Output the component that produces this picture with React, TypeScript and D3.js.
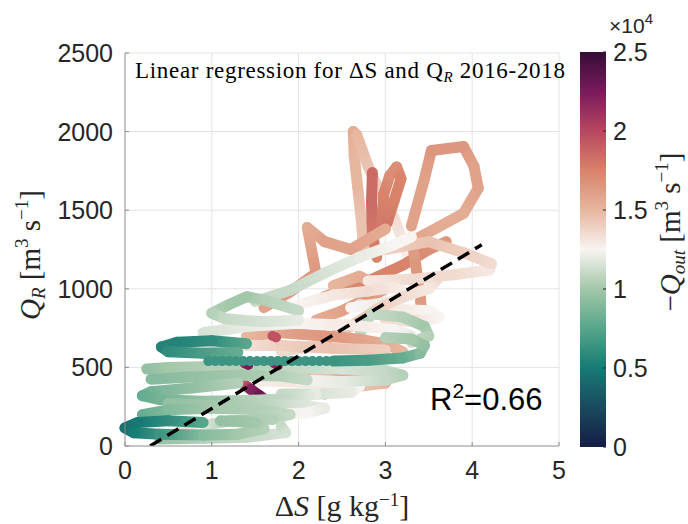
import React from 'react';
import * as d3 from 'd3';

type Pt = [number, number, number]; // [ΔS g/kg, Q_R m3/s, -Q_out m3/s]

// ---- trajectories (upper salmon ones first, lower green ones last)
const tallLoop: Pt[] = [[2.75, 1250, 14500], [2.72, 1450, 14500], [2.68, 1650, 15000], [2.64, 1850, 15000], [2.63, 2000, 15500], [2.67, 1980, 15000], [2.8, 1780, 14500], [2.95, 1600, 14000], [3.1, 1450, 13500], [3.2, 1300, 13000], [3.3, 1150, 12500]];
const topRightLoop: Pt[] = [[3.3, 1400, 16000], [3.45, 1700, 16000], [3.53, 1880, 16500], [3.9, 1905, 16500], [4.02, 1780, 16000], [4.07, 1640, 16000], [3.9, 1480, 15500], [3.6, 1390, 15500], [3.3, 1300, 16000]];
const redHook: Pt[] = [[2.95, 1380, 18000], [2.98, 1600, 17500], [3.05, 1720, 17000], [3.13, 1775, 17000], [3.18, 1700, 17500], [3.1, 1560, 17500], [3.02, 1420, 18000]];
const redStreak: Pt[] = [[2.85, 1740, 18500], [2.84, 1550, 18500], [2.85, 1350, 18000], [2.9, 1200, 17500]];
const salmonRise: Pt[] = [[1.6, 880, 16000], [1.9, 980, 16500], [2.2, 1100, 16500], [2.1, 1390, 15500], [2.3, 1300, 16000], [2.6, 1250, 16000], [3.0, 1380, 15500]];
const redBand: Pt[] = [[2.3, 950, 17000], [2.8, 1050, 17500], [3.2, 1150, 17500], [3.5, 1250, 17000], [3.7, 1300, 16500]];
const salmonDrop: Pt[] = [[3.3, 1330, 16000], [3.35, 1150, 16500], [3.4, 950, 16500], [3.42, 850, 16000], [3.3, 800, 15500]];
const salmonKnot: Pt[] = [[2.2, 800, 15500], [2.5, 860, 16000], [2.8, 940, 16500], [3.0, 1000, 16000], [2.7, 1080, 15500], [2.4, 1020, 15000]];
const pinkLoop: Pt[] = [[2.7, 900, 13500], [3.1, 870, 13000], [3.5, 860, 12500], [3.62, 820, 12500], [3.4, 790, 13000], [3.0, 800, 13500]];
const whiteReach: Pt[] = [[2.8, 1050, 13000], [3.3, 1060, 13500], [3.8, 1090, 13500], [4.2, 1120, 13000], [4.22, 1160, 13500], [3.9, 1230, 14000], [3.5, 1300, 14500], [3.0, 1250, 14000]];
const whiteKnot: Pt[] = [[2.0, 900, 12500], [2.4, 960, 13000], [2.8, 985, 13500], [3.1, 1010, 13000], [3.3, 960, 12500], [3.1, 920, 12000], [2.6, 880, 12500]];
const paleArc: Pt[] = [[1.5, 920, 11000], [1.9, 990, 11000], [2.3, 1100, 11500], [2.7, 1200, 12000], [3.1, 1280, 12500], [3.3, 1330, 12500]];
const pinkRamp: Pt[] = [[1.8, 600, 13500], [2.2, 640, 14000], [2.6, 760, 14500], [2.9, 870, 14000], [3.2, 950, 13500], [3.5, 1000, 13000], [3.6, 1060, 13500]];
const salmonMid: Pt[] = [[1.4, 700, 15000], [1.8, 720, 16000], [2.3, 700, 16500], [2.7, 680, 16000], [3.0, 650, 15500], [3.2, 600, 15000]];
const salmonLow: Pt[] = [[1.6, 470, 15000], [2.0, 460, 15500], [2.5, 440, 16000], [2.9, 430, 15500], [3.0, 400, 15000], [2.7, 380, 14500]];
const salmonStub: Pt[] = [[2.2, 450, 14500], [2.35, 420, 15000], [2.4, 360, 15500], [2.3, 330, 15000]];
const whiteLow: Pt[] = [[0.7, 420, 12000], [1.2, 420, 12500], [1.8, 410, 13000], [2.3, 400, 13000], [2.7, 380, 12500], [2.6, 340, 12000], [2.2, 330, 11500], [1.8, 330, 11000]];
const greenCorner: Pt[] = [[2.0, 860, 11000], [1.6, 930, 10500], [1.4, 950, 10000], [1.2, 900, 10000], [1.0, 845, 10500], [1.15, 810, 11000], [1.6, 790, 11500], [2.0, 800, 12000]];
const greenRight: Pt[] = [[2.7, 700, 11000], [2.75, 780, 10500], [2.85, 840, 11000], [3.2, 820, 10500], [3.45, 760, 10000], [3.5, 700, 10500], [3.3, 660, 11000]];
const whiteUpper: Pt[] = [[0.9, 720, 11500], [1.4, 760, 12000], [2.0, 780, 12500], [2.6, 770, 13000], [3.1, 740, 12500], [3.3, 700, 12000]];
const whiteMid: Pt[] = [[0.8, 620, 12000], [1.2, 640, 13000], [1.8, 640, 14000], [2.4, 620, 14500], [3.0, 610, 14000]];
const greenLong: Pt[] = [[0.25, 490, 9500], [0.5, 500, 10000], [1.0, 505, 10500], [1.5, 500, 10500], [2.0, 495, 11000], [2.5, 490, 11500], [3.0, 480, 11000], [3.2, 450, 10500], [3.0, 420, 11000], [2.5, 410, 12000], [2.0, 420, 12500]];
const greenFour: Pt[] = [[0.3, 425, 9000], [0.8, 440, 9500], [1.3, 450, 10000], [1.8, 445, 10500], [2.1, 420, 11000]];
const greenThird: Pt[] = [[1.3, 400, 10500], [0.8, 370, 9500], [0.3, 345, 8500], [0.2, 320, 8000], [0.4, 295, 8500], [0.9, 285, 9500], [1.4, 290, 10500], [1.9, 300, 11000], [2.2, 330, 12000]];
const greenPale: Pt[] = [[0.5, 270, 9500], [1.0, 260, 10000], [1.5, 265, 10500], [2.0, 260, 11500], [2.3, 240, 12000], [2.1, 210, 12500], [1.6, 200, 12000]];
const greenSecond: Pt[] = [[0.2, 200, 8000], [0.5, 230, 9000], [1.0, 240, 10000], [1.6, 230, 10500], [1.9, 200, 11000], [1.7, 170, 10500], [1.2, 160, 10000], [0.8, 120, 12500], [0.65, 95, 13500], [0.8, 85, 13000]];
const bottomPale: Pt[] = [[0.4, 45, 9500], [0.9, 50, 10500], [1.4, 55, 11000], [1.85, 85, 11500], [1.8, 125, 11000]];
const bottomLoop: Pt[] = [[0.9, 150, 7500], [0.5, 160, 6000], [0.15, 150, 5000], [0.0, 115, 4500], [0.1, 85, 5000], [0.4, 75, 6500], [0.9, 70, 9000], [1.3, 75, 10000], [1.6, 110, 10500], [1.5, 150, 10000], [1.1, 160, 9500]];
const tealArc: Pt[] = [[1.4, 650, 7500], [1.0, 670, 6000], [0.6, 660, 5500], [0.42, 630, 5500], [0.5, 600, 6000], [0.9, 590, 7000], [1.3, 595, 8000]];
const magentaStreak: Pt[] = [[1.35, 400, 19000], [1.45, 360, 22000], [1.55, 320, 23000], [1.62, 290, 21000], [1.5, 275, 16000]];
const magentaSpots: Pt[] = [[1.38, 525, 22000], [1.42, 515, 22500], [1.72, 525, 21500], [1.76, 512, 22000], [1.7, 700, 19500], [1.74, 690, 19500]];
const tealTail: Pt[] = [[2.4, 540, 6500], [2.8, 545, 7000], [3.2, 560, 8000], [3.4, 590, 9000], [3.45, 640, 9500], [3.3, 680, 10000], [3.0, 690, 10500]];

const tracks: Pt[][] = [
  tallLoop, topRightLoop, redStreak, redHook, salmonRise, redBand, salmonDrop, salmonKnot, whiteReach, pinkLoop,
  whiteKnot, paleArc, pinkRamp, greenRight, salmonMid, whiteUpper, greenCorner, whiteMid, salmonLow, salmonStub,
  whiteLow, magentaStreak, greenLong, greenFour, greenThird, greenPale, greenSecond, bottomPale, bottomLoop, tealArc, tealTail,
];

// the row of separate teal markers at Q_R ~ 540
const dotRowS = [0.96, 1.04, 1.12, 1.2, 1.28, 1.36, 1.44, 1.52, 1.6, 1.68, 1.76, 1.84, 1.92, 2.0, 2.08, 2.16, 2.24, 2.32, 2.4];
const dotRowQ = 540;
const dotRowOut = 6500;

const xTicks = [0, 1, 2, 3, 4, 5];
const yTicks = [0, 500, 1000, 1500, 2000, 2500];
const cTicks = [0, 5000, 10000, 15000, 20000, 25000];
const cTickLabels = ['0', '0.5', '1', '1.5', '2', '2.5'];
const fitSlope = 335;
const fitIntercept = -97;
const fitRange = [0.29, 4.11];
const rSquared = '0.66';

// cmocean "curl"
const curlStops = ['#151d44', '#1a4a5e', '#177a75', '#56a68a', '#a3c7a9', '#f8f4f2', '#e7b69f', '#d8836a', '#b6475f', '#7a1a5c', '#340d35'];

const plot = { left: 125, right: 559, top: 53, bottom: 446 };
const cbar = { left: 580, right: 606, top: 52, bottom: 447 };
const axisGrey = '#8c8c8c';
const sans = '"Liberation Sans", Arial, sans-serif';
const serif = '"Liberation Serif", "Times New Roman", serif';

export default function App() {
  const x = d3.scaleLinear().domain([0, 5]).range([plot.left, plot.right]);
  const y = d3.scaleLinear().domain([0, 2500]).range([plot.bottom, plot.top]);
  const curl = d3.scaleLinear<string>()
    .domain(curlStops.map((_, i) => (i / (curlStops.length - 1)) * 25000))
    .range(curlStops)
    .interpolate(d3.interpolateRgb)
    .clamp(true);
  const cy = d3.scaleLinear().domain([0, 25000]).range([cbar.bottom, cbar.top]);

  const segs: { id: string; x1: number; y1: number; x2: number; y2: number; c1: string; c2: string }[] = [];
  tracks.forEach((tr, t) => {
    for (let i = 0; i < tr.length - 1; i++) {
      segs.push({
        id: `s${t}_${i}`,
        x1: x(tr[i][0]), y1: y(tr[i][1]),
        x2: x(tr[i + 1][0]), y2: y(tr[i + 1][1]),
        c1: curl(tr[i][2]), c2: curl(tr[i + 1][2]),
      });
    }
  });

  return (
    <svg width={688} height={524} style={{ position: 'absolute', left: 0, top: 0, background: '#fff' }}>
      <defs>
        {segs.map((s) => (
          <linearGradient key={s.id} id={s.id} gradientUnits="userSpaceOnUse" x1={s.x1} y1={s.y1} x2={s.x2} y2={s.y2}>
            <stop offset="0" stopColor={s.c1} />
            <stop offset="1" stopColor={s.c2} />
          </linearGradient>
        ))}
        <linearGradient id="cbarGrad" x1="0" y1="1" x2="0" y2="0">
          {curlStops.map((c, i) => (
            <stop key={i} offset={i / (curlStops.length - 1)} stopColor={c} />
          ))}
        </linearGradient>
        <clipPath id="plotClip">
          <rect x={plot.left} y={plot.top} width={plot.right - plot.left} height={plot.bottom - plot.top} />
        </clipPath>
      </defs>

      {/* grid */}
      {xTicks.slice(1).map((t) => (
        <line key={'gx' + t} x1={x(t)} x2={x(t)} y1={plot.top} y2={plot.bottom} stroke="#e3e3e3" strokeWidth={1} />
      ))}
      {yTicks.slice(1).map((t) => (
        <line key={'gy' + t} x1={plot.left} x2={plot.right} y1={y(t)} y2={y(t)} stroke="#e3e3e3" strokeWidth={1} />
      ))}

      {/* trajectories */}
      <g>
        {segs.map((s) => (
          <line key={s.id} x1={s.x1} y1={s.y1} x2={s.x2} y2={s.y2} stroke={`url(#${s.id})`} strokeWidth={11} strokeLinecap="round" />
        ))}
        {magentaSpots.map((p, i) => (
          <circle key={'m' + i} cx={x(p[0])} cy={y(p[1])} r={5} fill={curl(p[2])} />
        ))}
        {dotRowS.map((s, i) => (
          <circle key={'d' + i} cx={x(s)} cy={y(dotRowQ)} r={5} fill={curl(dotRowOut)} />
        ))}
      </g>

      {/* regression */}
      <line
        x1={x(fitRange[0])} y1={y(fitSlope * fitRange[0] + fitIntercept)}
        x2={x(fitRange[1])} y2={y(fitSlope * fitRange[1] + fitIntercept)}
        stroke="#000" strokeWidth={3.5} strokeDasharray="13 7" clipPath="url(#plotClip)"
      />

      {/* axes */}
      <line x1={plot.left} x2={plot.left} y1={plot.top} y2={plot.bottom} stroke={axisGrey} strokeWidth={1} />
      <line x1={plot.left} x2={plot.right} y1={plot.bottom} y2={plot.bottom} stroke={axisGrey} strokeWidth={1} />
      {xTicks.map((t) => (
        <g key={'xt' + t}>
          <line x1={x(t)} x2={x(t)} y1={plot.bottom} y2={plot.bottom - 4} stroke={axisGrey} />
          <text x={x(t)} y={plot.bottom + 33} textAnchor="middle" fontFamily={sans} fontSize={25} fill="#262626">{t}</text>
        </g>
      ))}
      {yTicks.map((t) => (
        <g key={'yt' + t}>
          <line x1={plot.left} x2={plot.left + 4} y1={y(t)} y2={y(t)} stroke={axisGrey} />
          <text x={plot.left - 12} y={y(t) + 9} textAnchor="end" fontFamily={sans} fontSize={25} fill="#262626">{t}</text>
        </g>
      ))}

      {/* title */}
      <text x={135} y={78} fontFamily={serif} fontSize={23} fill="#000" textLength={430} lengthAdjust="spacing">
        Linear regression for ΔS and Q
        <tspan fontStyle="italic" fontSize={15} dy={4}>R</tspan>
        <tspan dy={-4}> 2016-2018</tspan>
      </text>

      {/* R^2 */}
      <text x={430} y={410} fontFamily={sans} fontSize={31} fill="#000">
        R<tspan fontSize={21} dy={-12}>2</tspan><tspan dy={12}>=</tspan>{rSquared}
      </text>

      {/* axis labels */}
      <text x={342} y={516} textAnchor="middle" fontFamily={serif} fontSize={30} fill="#262626">
        Δ<tspan fontStyle="italic">S</tspan> [g kg<tspan fontSize={19} dy={-10}>−1</tspan><tspan dy={10}>]</tspan>
      </text>
      <text transform="translate(40,255) rotate(-90)" textAnchor="middle" fontFamily={serif} fontSize={29} fill="#262626">
        <tspan fontStyle="italic">Q</tspan><tspan fontStyle="italic" fontSize={19} dy={5}>R</tspan>
        <tspan dy={-5}> [m</tspan><tspan fontSize={19} dy={-12}>3</tspan><tspan dy={12}> s</tspan>
        <tspan fontSize={19} dy={-12}>−1</tspan><tspan dy={12}>]</tspan>
      </text>

      {/* colorbar */}
      <rect x={cbar.left} y={cbar.top} width={cbar.right - cbar.left} height={cbar.bottom - cbar.top} fill="url(#cbarGrad)" />
      {cTicks.map((t, i) => (
        <g key={'ct' + t}>
          <line x1={cbar.right - 3} x2={cbar.right} y1={cy(t)} y2={cy(t)} stroke="#262626" />
          <text x={cbar.right + 7} y={cy(t) + 9} fontFamily={sans} fontSize={25} fill="#262626">{cTickLabels[i]}</text>
        </g>
      ))}
      <text x={609} y={33} fontFamily={sans} fontSize={21} fill="#262626">
        ×10<tspan fontSize={15} dy={-9}>4</tspan>
      </text>
      <text transform="translate(680,232) rotate(-90)" textAnchor="middle" fontFamily={serif} fontSize={29} fill="#262626">
        −<tspan fontStyle="italic">Q</tspan><tspan fontStyle="italic" fontSize={19} dy={5}>out</tspan>
        <tspan dy={-5}> [m</tspan><tspan fontSize={19} dy={-12}>3</tspan><tspan dy={12}> s</tspan>
        <tspan fontSize={19} dy={-12}>−1</tspan><tspan dy={12}>]</tspan>
      </text>
    </svg>
  );
}
